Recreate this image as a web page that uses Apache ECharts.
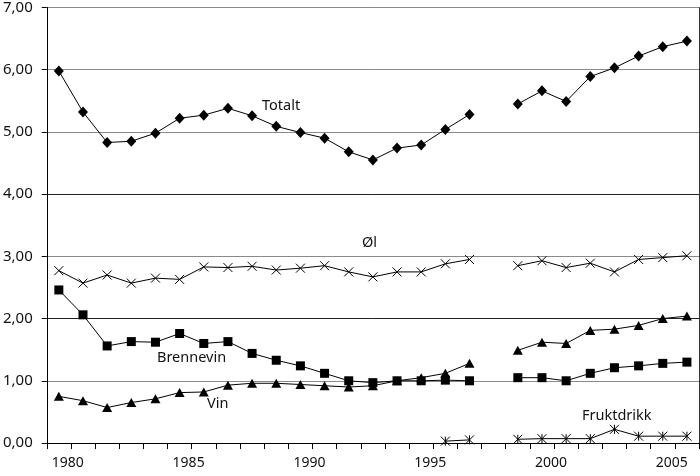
<!DOCTYPE html>
<html>
<head>
<meta charset="utf-8">
<script src="https://cdn.jsdelivr.net/npm/echarts@6/dist/echarts.min.js"></script>
<style>
  html, body { margin: 0; padding: 0; background: #fff; }
  #chart { width: 700px; height: 476px; }
</style>
</head>
<body>
<div id="chart"></div>
<script>
var years = ['1980', '1981', '1982', '1983', '1984', '1985', '1986', '1987', '1988', '1989',
    '1990', '1991', '1992', '1993', '1994', '1995', '1996', '1997', '1998', '1999',
    '2000', '2001', '2002', '2003', '2004', '2005', '2006'];

// liter per innbygger, 1998 mangler
var totalt = [5.98, 5.32, 4.83, 4.85, 4.98, 5.22, 5.27, 5.38, 5.26, 5.09,
    4.99, 4.90, 4.68, 4.55, 4.74, 4.79, 5.04, 5.28, null, 5.45,
    5.66, 5.49, 5.89, 6.03, 6.22, 6.37, 6.46];
var ol = [2.77, 2.57, 2.70, 2.57, 2.65, 2.63, 2.83, 2.82, 2.84, 2.78,
    2.81, 2.85, 2.75, 2.67, 2.75, 2.75, 2.88, 2.95, null, 2.85,
    2.93, 2.82, 2.89, 2.75, 2.95, 2.98, 3.01];
var brennevin = [2.46, 2.06, 1.56, 1.63, 1.62, 1.76, 1.60, 1.63, 1.44, 1.33,
    1.24, 1.12, 1.00, 0.97, 1.00, 1.00, 1.01, 1.00, null, 1.05,
    1.05, 1.00, 1.12, 1.21, 1.24, 1.28, 1.30];
var vin = [0.75, 0.68, 0.57, 0.65, 0.71, 0.81, 0.82, 0.93, 0.96, 0.96,
    0.94, 0.92, 0.90, 0.92, 1.00, 1.05, 1.12, 1.28, null, 1.49,
    1.62, 1.60, 1.81, 1.83, 1.89, 2.00, 2.04];
var fruktdrikk = [null, null, null, null, null, null, null, null, null, null,
    null, null, null, null, null, null, 0.03, 0.05, null, 0.06,
    0.07, 0.07, 0.07, 0.22, 0.11, 0.11, 0.11];

var FONT = 'Noto Sans';
var crossPath = 'path://M0,0L10,10M10,0L0,10';
var starPath = 'path://M0,0L10,10M10,0L0,10M5,0L5,10';

function serie(name, data, symbol, size, stroke) {
    return {
        name: name,
        type: 'line',
        data: data,
        symbol: symbol,
        symbolSize: size,
        showAllSymbol: true,
        connectNulls: false,
        lineStyle: { color: '#000', width: 1 },
        itemStyle: stroke ? { color: '#000', borderColor: '#000', borderWidth: 1 } : { color: '#000' },
        emphasis: { disabled: true }
    };
}

var myChart = echarts.init(document.getElementById('chart'));

var option = {
    animation: false,
    grid: { left: 45, right: 1, top: 6, bottom: 33 },
    xAxis: {
        type: 'category',
        data: years,
        boundaryGap: true,
        axisLine: { lineStyle: { color: '#000', width: 1 } },
        axisTick: { show: true, interval: 0, length: 6, lineStyle: { color: '#000' } },
        axisLabel: {
            interval: function(i) { return i % 5 === 0; },
            color: '#111',
            fontFamily: FONT,
            fontSize: 14,
            margin: 13,
            padding: [0, 0, 0, 18]
        },
        splitLine: { show: false }
    },
    yAxis: [
        {
            type: 'value',
            min: 0,
            max: 7,
            interval: 1,
            axisLine: { show: true, lineStyle: { color: '#000', width: 1 } },
            axisTick: { show: true, length: 5, lineStyle: { color: '#000' } },
            axisLabel: {
                color: '#111',
                fontFamily: FONT,
                fontSize: 15,
                margin: 14,
                formatter: function(v) { return v.toFixed(2).replace('.', ','); }
            },
            splitLine: {
                show: true,
                lineStyle: { color: ['#000', '#8a8a8a', '#222', '#8a8a8a', '#222', '#8a8a8a', '#8a8a8a', '#8a8a8a'], width: 1 }
            }
        },
        {
            type: 'value',
            position: 'right',
            min: 0,
            max: 7,
            interval: 1,
            axisLine: { show: true, lineStyle: { color: '#333', width: 1 } },
            axisTick: { show: false },
            axisLabel: { show: false },
            splitLine: { show: false }
        }
    ],
    series: [
        serie('Totalt', totalt, 'diamond', [10, 11], false),
        serie('Øl', ol, crossPath, 9, true),
        serie('Brennevin', brennevin, 'rect', 9, false),
        serie('Vin', vin, 'triangle', [10, 9], false),
        serie('Fruktdrikk', fruktdrikk, starPath, 9, true)
    ],
    graphic: [
        { type: 'text', left: 262, top: 98, style: { text: 'Totalt', font: '14.5px "Noto Sans"', fill: '#111' } },
        { type: 'text', left: 362, top: 235, style: { text: 'Øl', font: '14.5px "Noto Sans"', fill: '#111' } },
        { type: 'text', left: 157, top: 350, style: { text: 'Brennevin', font: '14.5px "Noto Sans"', fill: '#111' } },
        { type: 'text', left: 207, top: 396, style: { text: 'Vin', font: '14.5px "Noto Sans"', fill: '#111' } },
        { type: 'text', left: 582, top: 408, style: { text: 'Fruktdrikk', font: '14.5px "Noto Sans"', fill: '#111' } }
    ]
};
myChart.setOption(option);
</script>
</body>
</html>
